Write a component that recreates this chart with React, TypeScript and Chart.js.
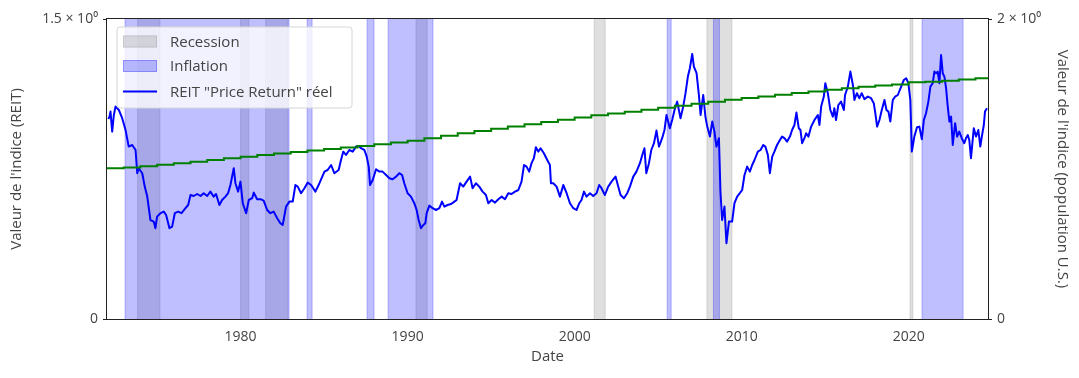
import React, { useEffect, useRef } from 'react';
import { Chart, registerables } from 'chart.js';

Chart.register(...registerables);

const FONT = '"Open Sans", "DejaVu Sans", sans-serif';
const TEXT = '#444444';

// X axis tick years
const tickYears = [1980, 1990, 2000, 2010, 2020];

// Left axis (REIT index) ticks
const leftTicks = [0, 1.5];
const leftTickLabels = ['0', '1.5 × 10⁰'];
// Right axis (population index) ticks
const rightTicks = [0, 2];
const rightTickLabels = ['0', '2 × 10⁰'];

const legendLabels = ['Recession', 'Inflation', 'REIT "Price Return" réel'];

// Recession periods (decimal years)
const recessionStart = [1973.83, 1980.0, 1981.5, 1990.5, 2001.17, 2007.92, 2020.08];
const recessionEnd = [1975.17, 1980.5, 1982.83, 1991.17, 2001.83, 2009.42, 2020.25];

// Inflation periods (decimal years)
const inflationStart = [1973.08, 1983.98, 1987.57, 1988.83, 2005.54, 2008.31, 2020.8];
const inflationEnd = [1982.9, 1984.28, 1987.99, 1991.52, 2005.78, 2008.67, 2023.26];

// Real REIT price-return index
const reitYears = [
  1972.08, 1972.15, 1972.21, 1972.31, 1972.41, 1972.51, 1972.71, 1972.91, 1973.11, 1973.3, 1973.51, 1973.71,
  1973.81, 1973.9, 1974.11, 1974.26, 1974.41, 1974.6, 1974.8, 1974.9, 1975.0, 1975.2, 1975.4, 1975.54,
  1975.74, 1975.9, 1976.06, 1976.26, 1976.46, 1976.7, 1976.86, 1977.0, 1977.19, 1977.4, 1977.6, 1977.79,
  1978.0, 1978.19, 1978.39, 1978.53, 1978.73, 1978.89, 1979.09, 1979.25, 1979.39, 1979.59, 1979.69, 1979.85,
  1979.99, 1980.13, 1980.33, 1980.49, 1980.69, 1980.79, 1980.99, 1981.19, 1981.38, 1981.59, 1981.78, 1981.98,
  1982.19, 1982.38, 1982.52, 1982.72, 1982.92, 1983.12, 1983.28, 1983.42, 1983.62, 1983.82, 1984.02, 1984.22,
  1984.48, 1984.72, 1985.02, 1985.21, 1985.42, 1985.61, 1985.87, 1986.01, 1986.15, 1986.31, 1986.51, 1986.71,
  1986.91, 1987.07, 1987.21, 1987.41, 1987.55, 1987.67, 1987.75, 1987.91, 1988.11, 1988.31, 1988.5, 1988.71,
  1988.91, 1989.1, 1989.31, 1989.5, 1989.67, 1989.8, 1990.0, 1990.2, 1990.4, 1990.54, 1990.66, 1990.8,
  1990.94, 1991.06, 1991.14, 1991.3, 1991.5, 1991.7, 1991.9, 1992.06, 1992.2, 1992.39, 1992.6, 1992.8,
  1992.93, 1993.14, 1993.33, 1993.53, 1993.74, 1993.89, 1994.09, 1994.29, 1994.49, 1994.69, 1994.83, 1995.03,
  1995.23, 1995.43, 1995.63, 1995.83, 1996.03, 1996.22, 1996.43, 1996.63, 1996.82, 1996.97, 1997.12, 1997.28,
  1997.42, 1997.56, 1997.68, 1997.82, 1997.96, 1998.16, 1998.36, 1998.52, 1998.58, 1998.72, 1998.92, 1999.12,
  1999.32, 1999.52, 1999.72, 1999.92, 2000.11, 2000.28, 2000.41, 2000.56, 2000.71, 2000.92, 2001.11, 2001.31,
  2001.47, 2001.61, 2001.81, 2002.01, 2002.21, 2002.45, 2002.61, 2002.75, 2002.95, 2003.15, 2003.31, 2003.51,
  2003.7, 2003.91, 2004.05, 2004.18, 2004.29, 2004.45, 2004.59, 2004.75, 2004.9, 2005.05, 2005.24, 2005.38,
  2005.5, 2005.7, 2005.84, 2005.98, 2006.14, 2006.34, 2006.5, 2006.64, 2006.78, 2006.9, 2007.04, 2007.14,
  2007.3, 2007.44, 2007.54, 2007.7, 2007.83, 2007.94, 2008.1, 2008.24, 2008.37, 2008.49, 2008.64, 2008.73,
  2008.83, 2008.97, 2009.09, 2009.24, 2009.43, 2009.57, 2009.73, 2009.89, 2010.03, 2010.17, 2010.33, 2010.49,
  2010.63, 2010.77, 2010.97, 2011.13, 2011.29, 2011.42, 2011.57, 2011.69, 2011.83, 2011.96, 2012.12, 2012.29,
  2012.42, 2012.56, 2012.72, 2012.89, 2013.02, 2013.16, 2013.28, 2013.42, 2013.52, 2013.62, 2013.76, 2013.86,
  2014.0, 2014.16, 2014.36, 2014.56, 2014.66, 2014.76, 2014.92, 2015.01, 2015.16, 2015.31, 2015.46, 2015.55,
  2015.65, 2015.79, 2015.95, 2016.12, 2016.19, 2016.36, 2016.51, 2016.66, 2016.75, 2016.9, 2017.05, 2017.19,
  2017.35, 2017.55, 2017.75, 2017.91, 2017.99, 2018.11, 2018.25, 2018.39, 2018.55, 2018.67, 2018.79, 2018.9,
  2019.05, 2019.19, 2019.35, 2019.55, 2019.71, 2019.85, 2019.98, 2020.1, 2020.19, 2020.34, 2020.5, 2020.64,
  2020.79, 2020.91, 2021.04, 2021.18, 2021.3, 2021.44, 2021.54, 2021.64, 2021.74, 2021.84, 2021.94, 2022.04,
  2022.14, 2022.24, 2022.34, 2022.44, 2022.54, 2022.64, 2022.78, 2022.9, 2023.03, 2023.18, 2023.33, 2023.43,
  2023.54, 2023.63, 2023.73, 2023.9, 2024.03, 2024.17, 2024.29, 2024.38, 2024.5, 2024.57, 2024.69,
];
const reitValues = [
  1.0, 1.012, 1.037, 0.937, 1.02, 1.062, 1.045, 1.004, 0.945, 0.862, 0.87, 0.845,
  0.729, 0.754, 0.729, 0.662, 0.612, 0.495, 0.487, 0.454, 0.512, 0.529, 0.537, 0.52,
  0.454, 0.462, 0.529, 0.537, 0.529, 0.554, 0.57, 0.62, 0.615, 0.625, 0.615, 0.629,
  0.615, 0.637, 0.612, 0.625, 0.57, 0.595, 0.612, 0.629, 0.67, 0.754, 0.679, 0.637,
  0.687, 0.579, 0.529, 0.595, 0.604, 0.632, 0.599, 0.599, 0.592, 0.545, 0.529, 0.537,
  0.504, 0.479, 0.47, 0.562, 0.587, 0.587, 0.67, 0.662, 0.629, 0.654, 0.682, 0.67,
  0.637, 0.679, 0.737, 0.745, 0.77, 0.729, 0.745, 0.795, 0.837, 0.82, 0.845, 0.837,
  0.862, 0.865, 0.854, 0.845, 0.812, 0.762, 0.67, 0.695, 0.749, 0.737, 0.737, 0.72,
  0.704, 0.699, 0.712, 0.729, 0.72, 0.679, 0.629, 0.612, 0.579, 0.545, 0.495, 0.454,
  0.47, 0.479, 0.529, 0.567, 0.554, 0.545, 0.554, 0.587, 0.562, 0.57, 0.575, 0.587,
  0.595, 0.679, 0.662, 0.687, 0.712, 0.654, 0.679, 0.662, 0.637, 0.62, 0.579, 0.595,
  0.582, 0.599, 0.612, 0.599, 0.629, 0.625, 0.637, 0.645, 0.687, 0.77, 0.762, 0.737,
  0.779, 0.804, 0.859, 0.837, 0.854, 0.829, 0.795, 0.77, 0.679, 0.679, 0.662, 0.612,
  0.67, 0.629, 0.579, 0.554, 0.545, 0.579, 0.595, 0.637, 0.612, 0.629, 0.615, 0.629,
  0.67, 0.654, 0.62, 0.662, 0.687, 0.712, 0.662, 0.62, 0.604, 0.629, 0.662, 0.712,
  0.737, 0.779, 0.82, 0.854, 0.729, 0.779, 0.845, 0.879, 0.942, 0.862, 0.904, 0.945,
  1.02, 0.954, 0.995, 1.045, 1.087, 1.004, 1.062, 1.129, 1.212, 1.254, 1.325, 1.262,
  1.229, 1.12, 1.02, 1.12, 1.012, 0.962, 0.912, 0.987, 0.937, 0.862, 0.904, 0.637,
  0.495, 0.562, 0.379, 0.487, 0.487, 0.579, 0.612, 0.629, 0.645, 0.72, 0.762, 0.737,
  0.77, 0.795, 0.837, 0.845, 0.87, 0.862, 0.82, 0.729, 0.812, 0.837, 0.87, 0.895,
  0.912, 0.904, 0.887, 0.912, 0.945, 0.97, 1.032, 0.954, 0.945, 0.879, 0.904, 0.929,
  0.912, 0.962, 0.995, 1.02, 0.97, 1.062, 1.112, 1.179, 1.129, 1.045, 1.012, 1.054,
  0.995, 1.07, 1.087, 1.045, 1.12, 1.162, 1.237, 1.17, 1.095, 1.129, 1.104, 1.129,
  1.099, 1.112, 1.104, 1.079, 1.037, 0.962, 0.995, 1.045, 1.095, 1.045, 1.037, 0.987,
  1.095, 1.112, 1.12, 1.162, 1.195, 1.204, 1.179, 1.095, 0.837, 0.912, 0.959, 0.962,
  0.899, 0.995, 1.029, 1.087, 1.162, 1.179, 1.237, 1.229, 1.237, 1.179, 1.32, 1.229,
  1.212, 1.154, 1.062, 0.987, 1.012, 0.87, 0.979, 0.912, 0.937, 0.904, 0.879, 0.904,
  0.92, 0.895, 0.804, 0.954, 0.912, 0.945, 0.862, 0.912, 0.97, 1.037, 1.054,
];

// U.S. population index (annual, last point holds the 2024 value to the end)
const popYears = [
  1972, 1973, 1974, 1975, 1976, 1977, 1978, 1979, 1980, 1981, 1982, 1983, 1984, 1985, 1986, 1987, 1988, 1989,
  1990, 1991, 1992, 1993, 1994, 1995, 1996, 1997, 1998, 1999, 2000, 2001, 2002, 2003, 2004, 2005, 2006, 2007,
  2008, 2009, 2010, 2011, 2012, 2013, 2014, 2015, 2016, 2017, 2018, 2019, 2020, 2021, 2022, 2023, 2024, 2024.75,
];
const popValues = [
  1.005, 1.01, 1.019, 1.029, 1.039, 1.049, 1.06, 1.072, 1.082, 1.093, 1.104, 1.114, 1.123, 1.133, 1.144, 1.154,
  1.165, 1.176, 1.189, 1.205, 1.222, 1.238, 1.253, 1.269, 1.283, 1.299, 1.314, 1.329, 1.344, 1.358, 1.37, 1.382,
  1.395, 1.408, 1.422, 1.435, 1.449, 1.462, 1.474, 1.484, 1.495, 1.506, 1.517, 1.528, 1.539, 1.549, 1.557, 1.564,
  1.579, 1.582, 1.588, 1.596, 1.605, 1.605,
];

const RECESSION_COLOR = 'rgba(128,128,128,0.25)';
const INFLATION_COLOR = 'rgba(0,0,255,0.25)';
const REIT_COLOR = '#0000ff';
const POP_COLOR = '#008000';

const spanPlugin = {
  id: 'spans',
  beforeDatasetsDraw(chart: any) {
    const { ctx, chartArea } = chart;
    const xs = chart.scales.x;
    ctx.save();
    ctx.beginPath();
    ctx.rect(chartArea.left, chartArea.top, chartArea.right - chartArea.left, chartArea.bottom - chartArea.top);
    ctx.clip();
    const drawSpans = (starts: number[], ends: number[], color: string) => {
      ctx.fillStyle = color;
      ctx.strokeStyle = color;
      ctx.lineWidth = 1;
      starts.forEach((s, i) => {
        const x1 = xs.getPixelForValue(s);
        const x2 = xs.getPixelForValue(ends[i]);
        ctx.fillRect(x1, chartArea.top, x2 - x1, chartArea.bottom - chartArea.top);
        ctx.strokeRect(x1, chartArea.top - 2, x2 - x1, chartArea.bottom - chartArea.top + 4);
      });
    };
    drawSpans(recessionStart, recessionEnd, RECESSION_COLOR);
    drawSpans(inflationStart, inflationEnd, INFLATION_COLOR);
    ctx.restore();
  },
};

const framePlugin = {
  id: 'frame',
  afterDatasetsDraw(chart: any) {
    const { ctx, chartArea } = chart;
    ctx.save();
    ctx.strokeStyle = '#222222';
    ctx.lineWidth = 1;
    ctx.strokeRect(
      Math.round(chartArea.left) - 0.5,
      Math.round(chartArea.top) - 0.5,
      Math.round(chartArea.right - chartArea.left) + 1,
      Math.round(chartArea.bottom - chartArea.top) + 1
    );
    ctx.restore();
  },
};

const legendPlugin = {
  id: 'insideLegend',
  afterDraw(chart: any) {
    const { ctx, chartArea } = chart;
    const x0 = chartArea.left + 10;
    const y0 = chartArea.top + 8;
    const w = 235;
    const h = 81;
    const r = 3;
    ctx.save();
    ctx.beginPath();
    ctx.moveTo(x0 + r, y0);
    ctx.lineTo(x0 + w - r, y0);
    ctx.quadraticCurveTo(x0 + w, y0, x0 + w, y0 + r);
    ctx.lineTo(x0 + w, y0 + h - r);
    ctx.quadraticCurveTo(x0 + w, y0 + h, x0 + w - r, y0 + h);
    ctx.lineTo(x0 + r, y0 + h);
    ctx.quadraticCurveTo(x0, y0 + h, x0, y0 + h - r);
    ctx.lineTo(x0, y0 + r);
    ctx.quadraticCurveTo(x0, y0, x0 + r, y0);
    ctx.closePath();
    ctx.fillStyle = 'rgba(255,255,255,0.8)';
    ctx.fill();
    ctx.strokeStyle = '#d6d6d6';
    ctx.lineWidth = 1;
    ctx.stroke();

    const rows = [y0 + 14.5, y0 + 39, y0 + 64.5];
    const px = x0 + 6;
    const pw = 34;
    [RECESSION_COLOR, INFLATION_COLOR].forEach((c, i) => {
      ctx.fillStyle = c;
      ctx.strokeStyle = c;
      ctx.fillRect(px, rows[i] - 6, pw, 12);
      ctx.strokeRect(px + 0.5, rows[i] - 5.5, pw - 1, 11);
    });
    ctx.strokeStyle = REIT_COLOR;
    ctx.lineWidth = 2;
    ctx.beginPath();
    ctx.moveTo(px, rows[2]);
    ctx.lineTo(px + pw, rows[2]);
    ctx.stroke();

    ctx.fillStyle = TEXT;
    ctx.font = `15px ${FONT}`;
    ctx.textBaseline = 'middle';
    ctx.textAlign = 'left';
    legendLabels.forEach((t, i) => {
      ctx.fillText(t, x0 + 53, rows[i] + 1);
    });
    ctx.restore();
  },
};

export default function App() {
  const ref = useRef<HTMLCanvasElement>(null);

  useEffect(() => {
    document.body.style.margin = '0';
    const canvas = ref.current;
    if (!canvas) return;
    const chart = new Chart(canvas, {
      type: 'line',
      data: {
        datasets: [
          {
            label: 'Population',
            data: popYears.map((x, i) => ({ x, y: popValues[i] })),
            yAxisID: 'y2',
            borderColor: POP_COLOR,
            borderWidth: 2,
            pointRadius: 0,
            stepped: true,
            order: 0,
          },
          {
            label: legendLabels[2],
            data: reitYears.map((x, i) => ({ x, y: reitValues[i] })),
            yAxisID: 'y',
            borderColor: REIT_COLOR,
            borderWidth: 2,
            pointRadius: 0,
            tension: 0,
            borderJoinStyle: 'round',
            order: 1,
          },
        ],
      },
      options: {
        responsive: false,
        animation: false,
        devicePixelRatio: 1,
        layout: { padding: { top: 19, left: 0, right: 0, bottom: 0 } },
        plugins: { legend: { display: false }, tooltip: { enabled: false } },
        scales: {
          x: {
            type: 'linear',
            position: 'bottom',
            min: 1972.0,
            max: 2024.75,
            afterBuildTicks: (s: any) => {
              s.ticks = tickYears.map((v) => ({ value: v }));
            },
            afterFit: (s: any) => {
              s.height = 59;
            },
            grid: { display: false, drawTicks: false },
            border: { display: false },
            ticks: {
              padding: 10,
              color: TEXT,
              maxRotation: 0,
              autoSkip: false,
              font: { family: FONT, size: 14 },
              callback: (v: any) => String(v),
            },
            title: {
              display: true,
              text: 'Date',
              color: TEXT,
              font: { family: FONT, size: 15 },
              padding: { top: 0, bottom: 12 },
            },
          },
          y: {
            type: 'linear',
            position: 'left',
            min: 0,
            max: 1.5,
            afterBuildTicks: (s: any) => {
              s.ticks = leftTicks.map((v) => ({ value: v }));
            },
            afterFit: (s: any) => {
              s.width = 107;
            },
            grid: { drawOnChartArea: false, drawTicks: true, tickLength: 4, color: '#222222' },
            border: { display: false },
            ticks: {
              padding: 5,
              color: TEXT,
              font: { family: FONT, size: 14 },
              callback: (_v: any, i: number) => leftTickLabels[i],
            },
            title: {
              display: true,
              text: "Valeur de l'indice (REIT)",
              color: TEXT,
              font: { family: FONT, size: 15 },
              padding: { top: 8, bottom: 0 },
            },
          },
          y2: {
            type: 'linear',
            position: 'right',
            min: 0,
            max: 2,
            afterBuildTicks: (s: any) => {
              s.ticks = rightTicks.map((v) => ({ value: v }));
            },
            afterFit: (s: any) => {
              s.width = 91;
            },
            grid: { drawOnChartArea: false, drawTicks: true, tickLength: 4, color: '#222222' },
            border: { display: false },
            ticks: {
              padding: 5,
              color: TEXT,
              font: { family: FONT, size: 14 },
              callback: (_v: any, i: number) => rightTickLabels[i],
            },
            title: {
              display: true,
              text: "Valeur de l'indice (population U.S.)",
              color: TEXT,
              font: { family: FONT, size: 15 },
              padding: { top: 8, bottom: 0 },
            },
          },
        },
      },
      plugins: [spanPlugin, framePlugin, legendPlugin],
    } as any);
    return () => chart.destroy();
  }, []);

  return <canvas ref={ref} width={1079} height={378} style={{ display: 'block' }} />;
}
